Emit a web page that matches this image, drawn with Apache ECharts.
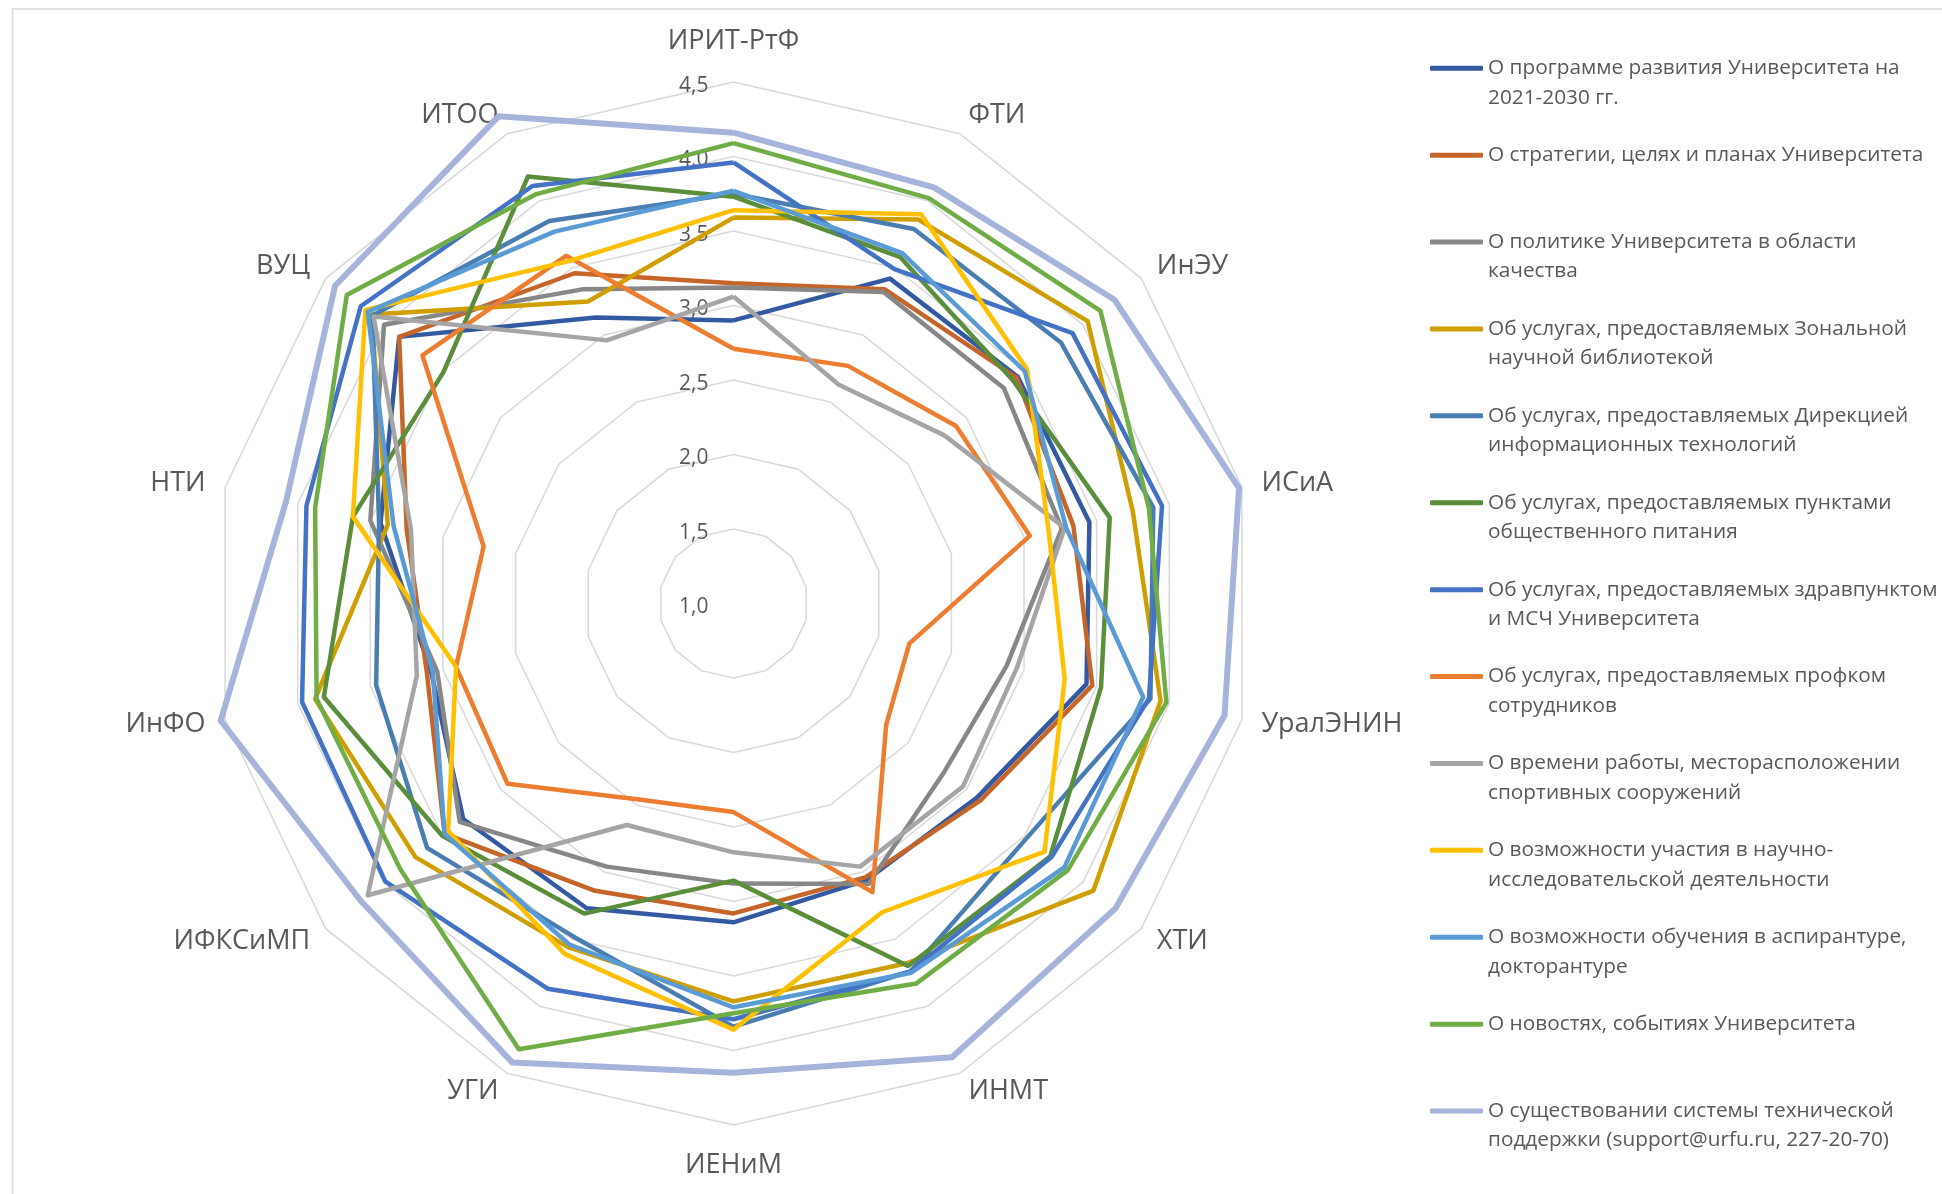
<!DOCTYPE html>
<html><head><meta charset="utf-8">
<script src="https://cdn.jsdelivr.net/npm/echarts@6/dist/echarts.min.js"></script>
<style>html,body{margin:0;padding:0;background:#fff;} #c{width:1942px;height:1194px;}</style>
</head><body><div id="c"></div>
<script>
// Axes (clockwise from top)
const indicators = ['ИРИТ-РтФ','ФТИ','ИнЭУ','ИСиА','УралЭНИН','ХТИ','ИНМТ','ИЕНиМ','УГИ','ИФКСиМП','ИнФО','НТИ','ВУЦ','ИТОО'];
const axisMin = 1.0, axisMax = 4.5, axisStep = 0.5;

const seriesNames = [
  'О программе развития Университета на 2021-2030 гг.',
  'О стратегии, целях и планах Университета',
  'О политике Университета в области качества',
  'Об услугах, предоставляемых Зональной научной библиотекой',
  'Об услугах, предоставляемых Дирекцией информационных технологий',
  'Об услугах, предоставляемых пунктами общественного питания',
  'Об услугах, предоставляемых здравпунктом и МСЧ Университета',
  'Об услугах, предоставляемых профком сотрудников',
  'О времени работы, месторасположении спортивных сооружений',
  'О возможности участия в научно-исследовательской деятельности',
  'О возможности обучения в аспирантуре, докторантуре',
  'О новостях, событиях Университета',
  'О существовании системы технической поддержки (support@urfu.ru, 227-20-70)'
];
const legendLines = [
  'О программе развития Университета на\n2021-2030 гг.',
  'О стратегии, целях и планах Университета',
  'О политике Университета в области\nкачества',
  'Об услугах, предоставляемых Зональной\nнаучной библиотекой',
  'Об услугах, предоставляемых Дирекцией\nинформационных технологий',
  'Об услугах, предоставляемых пунктами\nобщественного питания',
  'Об услугах, предоставляемых здравпунктом\nи МСЧ Университета',
  'Об услугах, предоставляемых профком\nсотрудников',
  'О времени работы, месторасположении\nспортивных сооружений',
  'О возможности участия в научно-\nисследовательской деятельности',
  'О возможности обучения в аспирантуре,\nдокторантуре',
  'О новостях, событиях Университета',
  'О существовании системы технической\nподдержки (support@urfu.ru, 227-20-70)'
];
const colors = ['#335AA0','#C5652A','#878787','#CF9E00','#4A7EB2','#5A8E3A','#4472C4','#ED7D31','#A5A5A5','#FFC000','#5B9BD5','#70AD47','#A6B4DC'];

// Values per axis, in the order of `indicators`
const devProgram    = [2.90, 3.42, 3.44, 3.45, 3.43, 3.09, 3.06, 3.14, 3.27, 3.32, 3.08, 3.43, 3.87, 3.13];
const strategy      = [3.15, 3.34, 3.43, 3.34, 3.47, 3.12, 3.04, 3.08, 3.14, 3.48, 3.11, 3.25, 3.87, 3.46];
const qualityPolicy = [3.12, 3.32, 3.32, 3.26, 2.88, 2.81, 3.09, 2.88, 2.96, 3.35, 3.04, 3.50, 4.00, 3.34];
const library       = [3.59, 3.86, 4.04, 3.75, 3.94, 4.09, 3.68, 3.67, 3.56, 3.73, 3.88, 3.38, 4.11, 3.25];
const itDirectorate = [3.75, 3.79, 3.81, 3.89, 3.87, 3.52, 3.74, 3.84, 3.48, 3.63, 3.46, 3.44, 4.10, 3.85];
const catering      = [3.73, 3.58, 3.40, 3.59, 3.53, 3.72, 3.70, 2.86, 3.31, 3.50, 3.82, 3.62, 3.49, 4.18];
const medical       = [3.96, 3.49, 3.91, 3.95, 3.86, 3.73, 3.74, 3.79, 3.87, 3.99, 3.97, 3.94, 4.20, 4.11];
const tradeUnion    = [2.71, 2.77, 2.91, 3.04, 2.21, 2.31, 3.15, 2.40, 2.46, 2.94, 2.91, 2.72, 3.67, 3.59];
const sports        = [3.06, 2.63, 2.81, 3.28, 2.95, 2.97, 2.96, 2.67, 2.65, 4.14, 3.18, 3.22, 4.09, 2.96];
const research      = [3.64, 3.90, 3.52, 3.17, 3.28, 3.67, 3.30, 3.86, 3.61, 3.45, 2.91, 3.62, 4.16, 3.55];
const postgraduate  = [3.77, 3.61, 3.50, 3.29, 3.82, 3.84, 3.75, 3.71, 3.54, 3.48, 3.07, 3.34, 4.14, 3.77];
const news          = [4.09, 4.02, 4.15, 3.86, 3.98, 3.87, 3.83, 3.75, 4.32, 3.86, 3.87, 3.88, 4.32, 4.05];
const techSupport   = [4.16, 4.10, 4.27, 4.48, 4.38, 4.28, 4.38, 4.15, 4.42, 4.20, 4.53, 4.08, 4.42, 4.63];

const allSeries = [devProgram, strategy, qualityPolicy, library, itDirectorate, catering, medical,
                   tradeUnion, sports, research, postgraduate, news, techSupport];

// ECharts places radar indicators counter-clockwise; reorder to get clockwise layout
const order = [0].concat(indicators.map((_, i) => i).slice(1).reverse());
const fmt = v => (Math.round(v * 10) / 10).toFixed(1).replace('.', ',');

const chart = echarts.init(document.getElementById('c'), null, {renderer: 'canvas'});
const indicatorOpts = order.map((i, k) => {
  const o = {name: indicators[i], min: axisMin, max: axisMax,
             nameGap: (i === 0 || i === 7) ? 27 : 20};
  if (k === 0) {
    o.axisLabel = {
      show: true, margin: 25,
      formatter: v => '{t|' + fmt(v) + '}',
      rich: {t: {fontSize: 21, color: '#595959', fontFamily: 'Open Sans', padding: [8, 0, 0, 0]}}
    };
  }
  return o;
});

chart.setOption({
  animation: false,
  backgroundColor: '#ffffff',
  graphic: [{
    type: 'rect', silent: true, z: -10,
    shape: {x: 12.5, y: 9, width: 2200, height: 2200},
    style: {fill: 'none', stroke: '#D9D9D9', lineWidth: 1.5}
  }],
  legend: {
    orient: 'vertical', left: 1430, top: 24, padding: 0, itemGap: -1.6,
    itemWidth: 53, itemHeight: 5, icon: 'roundRect', selectedMode: false,
    data: seriesNames,
    formatter: name => {
      const t = legendLines[seriesNames.indexOf(name)];
      return '\u00a0\n' + t + (t.indexOf('\n') < 0 ? '\n\u00a0' : '');
    },
    textStyle: {fontFamily: 'Open Sans', fontSize: 20.8, color: '#595959', lineHeight: 29.5}
  },
  radar: {
    center: [733.5, 603.5], radius: 521.5, startAngle: 90,
    splitNumber: Math.round((axisMax - axisMin) / axisStep),
    shape: 'polygon',
    indicator: indicatorOpts,
    axisName: {color: '#595959', fontSize: 27, fontFamily: 'Open Sans'},
    splitLine: {lineStyle: {color: '#D9D9D9', width: 1.5}},
    splitArea: {show: false},
    axisLine: {show: false},
    axisTick: {show: false},
    axisLabel: {show: false}
  },
  series: allSeries.map((arr, s) => ({
    type: 'radar', name: seriesNames[s], symbol: 'none', silent: true,
    lineStyle: {width: s === 12 ? 6 : 4.5, color: colors[s]},
    itemStyle: {color: colors[s]},
    data: [{name: seriesNames[s], value: order.map(i => arr[i])}]
  }))
});
</script></body></html>
